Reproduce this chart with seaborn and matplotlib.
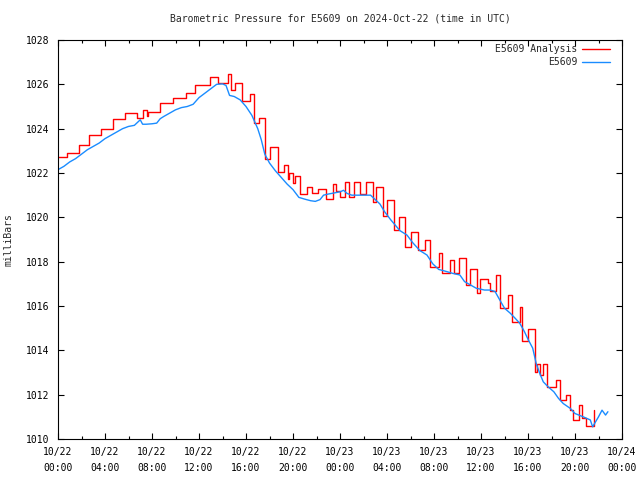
import pandas as pd
import matplotlib
matplotlib.use("Agg")
import matplotlib.pyplot as plt
import matplotlib.dates as mdates
import seaborn as sns

# E5609 station readings (hours after 2024-10-22 00:00 UTC, millibars)
station_hours = [0.0, 0.5, 1.0, 1.5, 2.0, 2.5, 3.0, 3.5, 4.0, 4.5, 5.0, 5.5, 6.0, 6.5,
                 7.0, 7.2, 7.5, 8.0, 8.4, 8.7, 9.0, 9.5, 10.0, 10.5, 11.0, 11.5, 12.0,
                 12.5, 13.0, 13.5, 14.0, 14.3, 14.6, 15.0, 15.5, 16.0, 16.5, 17.0, 17.3,
                 17.6, 18.0, 18.5, 19.0, 19.5, 20.0, 20.5, 21.0, 21.5, 21.9, 22.3, 22.6,
                 23.0, 23.5, 24.0, 24.3, 24.6, 25.0, 25.5, 26.0, 26.6, 27.0, 27.4, 27.8,
                 28.3, 28.7, 29.1, 29.7, 30.2, 30.8, 31.4, 31.9, 32.4, 33.1, 33.6, 34.2,
                 34.6, 35.1, 35.6, 36.3, 36.8, 37.2, 37.6, 38.0, 38.5, 38.9, 39.3, 39.7,
                 40.0, 40.4, 40.7, 41.0, 41.3, 41.7, 42.2, 42.6, 43.0, 43.6, 44.0, 44.7,
                 45.3, 45.5, 46.0, 46.3, 46.6, 46.8]
station_mb = [1022.15, 1022.3, 1022.5, 1022.65, 1022.85, 1023.05, 1023.2, 1023.35, 1023.55,
              1023.7, 1023.85, 1024.0, 1024.1, 1024.15, 1024.4, 1024.2, 1024.2, 1024.22,
              1024.25, 1024.45, 1024.55, 1024.7, 1024.85, 1024.95, 1025.0, 1025.1, 1025.4,
              1025.6, 1025.8, 1026.0, 1026.02, 1025.95, 1025.5, 1025.45, 1025.3, 1025.0,
              1024.6, 1024.0, 1023.5, 1022.85, 1022.45, 1022.1, 1021.8, 1021.5, 1021.25,
              1020.9, 1020.82, 1020.75, 1020.72, 1020.8, 1021.0, 1021.05, 1021.1, 1021.15,
              1021.22, 1021.08, 1021.0, 1021.0, 1021.0, 1021.0, 1020.8, 1020.6, 1020.25,
              1019.9, 1019.65, 1019.4, 1019.2, 1018.85, 1018.5, 1018.3, 1017.9, 1017.65,
              1017.55, 1017.47, 1017.4, 1017.1, 1016.95, 1016.8, 1016.72, 1016.72, 1016.65,
              1016.27, 1015.9, 1015.67, 1015.45, 1015.22, 1014.84, 1014.5, 1014.1, 1013.4,
              1012.96, 1012.58, 1012.36, 1012.13, 1011.83, 1011.6, 1011.38, 1011.15, 1011.0,
              1010.86, 1010.55, 1011.0, 1011.3, 1011.08, 1011.23]

# analysis values, each holding until the next start hour
analysis_hours = [0.0, 0.8, 1.8, 2.6, 3.7, 4.7, 5.7, 6.7, 7.2, 7.6, 7.7, 8.7, 9.8, 10.9,
                  11.7, 12.9, 13.6, 14.5, 14.7, 15.1, 15.7, 16.3, 16.7, 17.1, 17.6, 18.0,
                  18.7, 19.2, 19.6, 19.7, 20.0, 20.2, 20.6, 21.2, 21.6, 22.1, 22.8, 23.4,
                  23.7, 24.0, 24.4, 24.8, 25.2, 25.7, 26.2, 26.8, 27.1, 27.7, 28.0, 28.6,
                  29.0, 29.5, 30.0, 30.6, 31.2, 31.7, 32.4, 32.7, 33.4, 33.7, 34.1, 34.7,
                  35.1, 35.7, 35.9, 36.6, 36.8, 37.3, 37.6, 38.3, 38.6, 39.3, 39.5, 40.0,
                  40.6, 40.8, 41.0, 41.3, 41.6, 42.4, 42.7, 43.2, 43.6, 43.8, 44.3, 44.6,
                  44.9, 45.6]
analysis_mb = [1022.70, 1022.89, 1023.25, 1023.70, 1023.97, 1024.45, 1024.69, 1024.47,
               1024.84, 1024.57, 1024.76, 1025.14, 1025.40, 1025.60, 1025.97, 1026.34,
               1026.07, 1026.46, 1025.74, 1026.04, 1025.23, 1025.56, 1024.24, 1024.46,
               1022.62, 1023.16, 1022.06, 1022.36, 1021.75, 1022.0, 1021.55, 1021.86,
               1021.05, 1021.35, 1021.08, 1021.26, 1020.81, 1021.50, 1021.20, 1020.93,
               1021.61, 1020.93, 1021.61, 1021.05, 1021.61, 1020.71, 1021.35, 1020.06,
               1020.78, 1019.43, 1020.03, 1018.68, 1019.35, 1018.53, 1018.98, 1017.75,
               1018.40, 1017.47, 1018.08, 1017.47, 1018.15, 1016.95, 1017.67, 1016.60,
               1017.20, 1017.05, 1016.68, 1017.40, 1015.90, 1016.50, 1015.30, 1015.95,
               1014.40, 1014.95, 1013.04, 1013.40, 1012.90, 1013.40, 1012.36, 1012.66,
               1011.76, 1012.00, 1011.31, 1010.86, 1011.53, 1010.93, 1010.60, 1011.30]

start = pd.Timestamp("2024-10-22 00:00")
station = pd.DataFrame({"time": start + pd.to_timedelta(station_hours, unit="h"),
                        "mb": station_mb})
analysis = pd.DataFrame({"time": start + pd.to_timedelta(analysis_hours, unit="h"),
                         "mb": analysis_mb})

sns.set_style("ticks")
plt.rcParams["font.family"] = ["DejaVu Sans Mono", "DejaVu Sans"]
plt.rcParams["font.size"] = 7

fig = plt.figure(figsize=(6.4, 4.8), dpi=100)
ax = fig.add_axes([58 / 640, 41 / 480, 564 / 640, 399 / 480])

sns.lineplot(data=analysis, x="time", y="mb", ax=ax, color="#ff0000", lw=1.0,
             drawstyle="steps-post", label="E5609 Analysis")
sns.lineplot(data=station, x="time", y="mb", ax=ax, color="#1a8cff", lw=1.0,
             label="E5609")

ax.set_xlim(start, start + pd.Timedelta(hours=48))
ax.set_ylim(1010, 1028)
ax.set_yticks(range(1010, 1029, 2))
ax.xaxis.set_major_locator(mdates.HourLocator(byhour=range(0, 24, 4)))
ax.xaxis.set_minor_locator(mdates.HourLocator(byhour=range(0, 24, 2)))
ax.xaxis.set_major_formatter(mdates.DateFormatter("%m/%d\n%H:%M"))
ax.tick_params(which="both", direction="in", top=True, right=True, colors="black",
               labelsize=7, width=0.8)
ax.tick_params(which="major", length=4, pad=6)
ax.tick_params(which="minor", length=2.5)
for lbl in ax.get_xticklabels():
    lbl.set_linespacing(1.7)
for s in ax.spines.values():
    s.set_visible(True)
    s.set_color("black")
    s.set_linewidth(0.8)

ax.set_title("Barometric Pressure for E5609 on 2024-Oct-22 (time in UTC)", fontsize=7, pad=13)
ax.set_xlabel("")
ax.set_ylabel("milliBars", fontsize=7, labelpad=9)

ax.legend(loc="upper right", bbox_to_anchor=(0.979, 0.99), frameon=False,
          markerfirst=False, fontsize=7, handlelength=2.9, handletextpad=0.5,
          labelspacing=0.35, borderaxespad=0, borderpad=0)

plt.savefig("out.png", dpi=100)
